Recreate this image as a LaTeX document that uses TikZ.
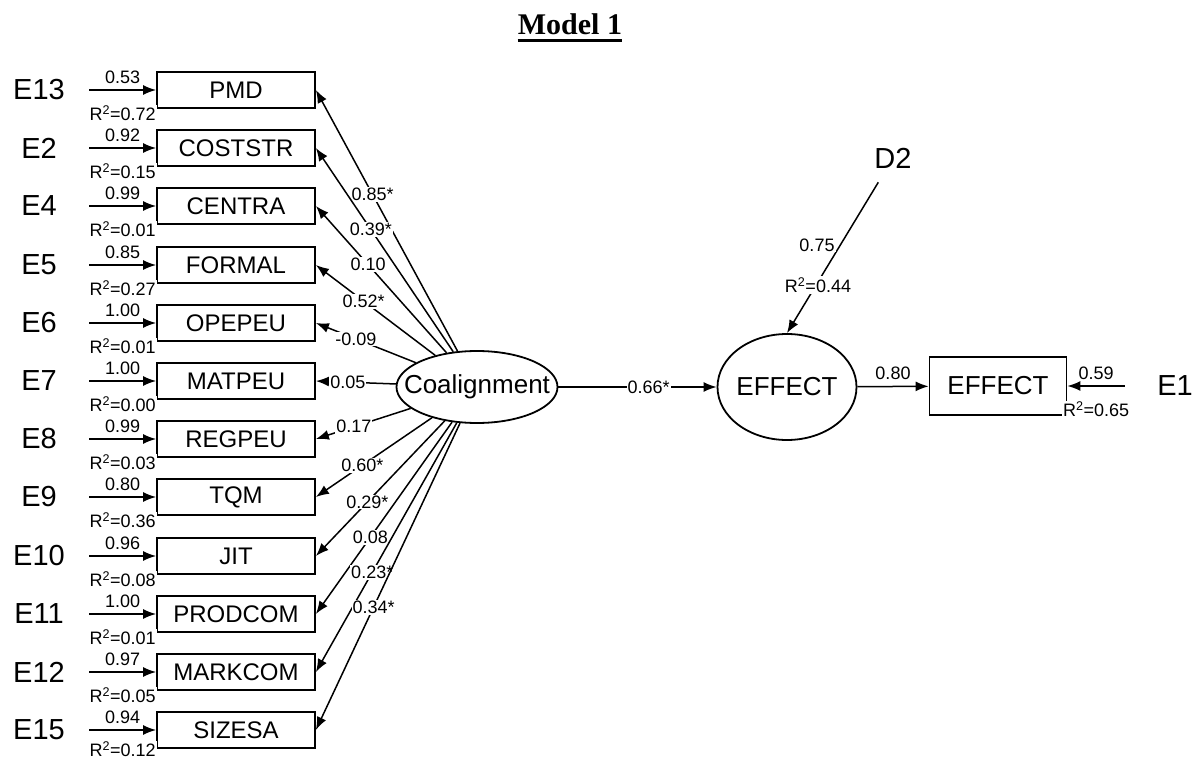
\documentclass[tikz,border=0pt]{standalone}
\usepackage{fontspec}
\setmainfont{Liberation Sans}
\newfontfamily\titlefont{Liberation Serif}
\usetikzlibrary{shapes.geometric,arrows.meta,positioning}
\tikzset{
    obs/.style={rectangle,draw,line width=1.8pt,minimum width=158pt,minimum height=36pt,inner sep=0pt,font=\fontsize{24}{24}\selectfont},
    lat/.style={ellipse,draw,line width=1.8pt,inner sep=0pt,font=\fontsize{26}{26}\selectfont},
    err/.style={minimum width=100pt,inner sep=0pt,font=\fontsize{29}{29}\selectfont},
    coef/.style={fill=white,inner sep=1pt,font=\fontsize{18}{18}\selectfont},
    parr/.style={-{Latex[length=13pt,width=10pt]},line width=1.5pt},
}

\begin{document}
\begin{tikzpicture}[x=1pt,y=-1pt]
\useasboundingbox (0,0) rectangle (1200,762);
\node[inner xsep=0pt,inner ysep=5pt,font=\titlefont\fontsize{30}{30}\selectfont\bfseries,anchor=base] (title) at (570,35) {Model 1};
\draw[line width=2.5pt] (title.south west) -- (title.south east);
% observed indicators
\node[obs] (pmd) at (236,90) {PMD};
\node[obs] (coststr) at (236,148) {COSTSTR};
\node[obs] (centra) at (236,206) {CENTRA};
\node[obs] (formal) at (236,265) {FORMAL};
\node[obs] (opepeu) at (236,323) {OPEPEU};
\node[obs] (matpeu) at (236,381) {MATPEU};
\node[obs] (regpeu) at (236,439) {REGPEU};
\node[obs] (tqm) at (236,497) {TQM};
\node[obs] (jit) at (236,556) {JIT};
\node[obs] (prodcom) at (236,614) {PRODCOM};
\node[obs] (markcom) at (236,672) {MARKCOM};
\node[obs] (sizesa) at (236,730) {SIZESA};
% error terms
\node[err] (e13) at (39,90) {E13};
\node[err] (e2) at (39,148) {E2};
\node[err] (e4) at (39,206) {E4};
\node[err] (e5) at (39,265) {E5};
\node[err] (e6) at (39,323) {E6};
\node[err] (e7) at (39,381) {E7};
\node[err] (e8) at (39,439) {E8};
\node[err] (e9) at (39,497) {E9};
\node[err] (e10) at (39,556) {E10};
\node[err] (e11) at (39,614) {E11};
\node[err] (e12) at (39,672) {E12};
\node[err] (e15) at (39,730) {E15};
\draw[parr] (e13) -- node[coef,above=5pt]{0.53} node[coef,below=14pt]{R\textsuperscript{2}=0.72} (pmd);
\draw[parr] (e2) -- node[coef,above=5pt]{0.92} node[coef,below=14pt]{R\textsuperscript{2}=0.15} (coststr);
\draw[parr] (e4) -- node[coef,above=5pt]{0.99} node[coef,below=14pt]{R\textsuperscript{2}=0.01} (centra);
\draw[parr] (e5) -- node[coef,above=5pt]{0.85} node[coef,below=14pt]{R\textsuperscript{2}=0.27} (formal);
\draw[parr] (e6) -- node[coef,above=5pt]{1.00} node[coef,below=14pt]{R\textsuperscript{2}=0.01} (opepeu);
\draw[parr] (e7) -- node[coef,above=5pt]{1.00} node[coef,below=14pt]{R\textsuperscript{2}=0.00} (matpeu);
\draw[parr] (e8) -- node[coef,above=5pt]{0.99} node[coef,below=14pt]{R\textsuperscript{2}=0.03} (regpeu);
\draw[parr] (e9) -- node[coef,above=5pt]{0.80} node[coef,below=14pt]{R\textsuperscript{2}=0.36} (tqm);
\draw[parr] (e10) -- node[coef,above=5pt]{0.96} node[coef,below=14pt]{R\textsuperscript{2}=0.08} (jit);
\draw[parr] (e11) -- node[coef,above=5pt]{1.00} node[coef,below=14pt]{R\textsuperscript{2}=0.01} (prodcom);
\draw[parr] (e12) -- node[coef,above=5pt]{0.97} node[coef,below=14pt]{R\textsuperscript{2}=0.05} (markcom);
\draw[parr] (e15) -- node[coef,above=5pt]{0.94} node[coef,below=10pt]{R\textsuperscript{2}=0.12} (sizesa);
% latent variables
\node[lat,minimum width=161pt,minimum height=72pt] (coal) at (477,387) {\makebox[0pt]{Coalignment}};
\node[lat,minimum width=139pt,minimum height=106pt] (eff) at (787,387) {\makebox[0pt]{EFFECT}};
\node[obs,minimum width=137pt,minimum height=58pt,font=\fontsize{26}{26}\selectfont] (effbox) at (998,386) {EFFECT};
\node[err] (e1) at (1175,386) {E1};
\node[err,minimum width=0pt,inner sep=14pt] (d2) at (893,158) {D2};
% loadings
\draw[parr] (coal) -- node[coef,pos=0.6]{0.85*} (pmd.east);
\draw[parr] (coal) -- node[coef,pos=0.6]{0.39*} (coststr.east);
\draw[parr] (coal) -- node[coef,pos=0.6]{0.10} (centra.east);
\draw[parr] (coal) -- node[coef,pos=0.6]{0.52*} (formal.east);
\draw[parr] (coal) -- node[coef,pos=0.6]{-0.09} (opepeu.east);
\draw[parr] (coal) -- node[coef,pos=0.6]{0.05} (matpeu.east);
\draw[parr] (coal) -- node[coef,pos=0.6]{0.17} (regpeu.east);
\draw[parr] (coal) -- node[coef,pos=0.6]{0.60*} (tqm.east);
\draw[parr] (coal) -- node[coef,pos=0.6]{0.29*} (jit.east);
\draw[parr] (coal) -- node[coef,pos=0.6]{0.08} (prodcom.east);
\draw[parr] (coal) -- node[coef,pos=0.6]{0.23*} (markcom.east);
\draw[parr] (coal) -- node[coef,pos=0.6]{0.34*} (sizesa.east);
% structural part
\draw[parr] (coal) -- node[coef,pos=0.57]{0.66*} (eff);
\draw[parr] (eff) -- node[coef,above=5pt]{0.80} (effbox);
\draw[parr] (e1) -- node[coef,above=5pt]{0.59} node[coef,below=14pt]{R\textsuperscript{2}=0.65} (effbox);
\draw[parr] (d2) -- (eff.north);
\node[coef] (d2coef) at (817,245) {0.75};
\node[coef] (effr2) at (818,285) {R\textsuperscript{2}=0.44};
\end{tikzpicture}
\end{document}
